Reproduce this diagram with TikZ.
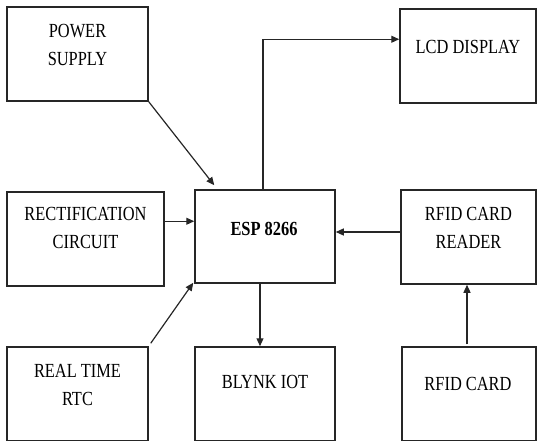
\documentclass[tikz,border=0pt]{standalone}
\usepackage{fontspec}
\usepackage{graphicx}
\setmainfont{Liberation Serif}
\usetikzlibrary{arrows.meta,calc}
\newcommand\sqz[1]{\scalebox{0.82}[1]{\begin{tabular}{@{}c@{}}#1\end{tabular}}}
\tikzset{
  box/.style={draw=black!85, line width=1.5pt, rectangle, inner sep=0pt},
  txt/.style={font=\fontsize{20}{28}\selectfont, align=center, inner sep=0pt},
  arr/.style={draw=black!85, line width=1.2pt, -{Triangle[length=8pt,width=7pt]}}
}
\begin{document}
\begin{tikzpicture}[x=1pt,y=-1pt]
\useasboundingbox (0,0) rectangle (538,441);
% boxes
\node[box, minimum width=141pt, minimum height=94pt] (ps) at (77.5,54) {};
\node[txt] (pst) at (77.5,46) {\sqz{POWER\\SUPPLY}};
\node[box, minimum width=157pt, minimum height=94pt] (rect) at (85.5,239) {};
\node[txt] (rectt) at (85.5,229) {\sqz{RECTIFICATION\\CIRCUIT}};
\node[box, minimum width=140pt, minimum height=93pt] (esp) at (265,236.5) {};
\node[txt, font=\bfseries\fontsize{20}{28}\selectfont] (espt) at (264,230) {\sqz{ESP 8266}};
\node[box, minimum width=136pt, minimum height=94pt] (lcd) at (468,56) {};
\node[txt] (lcdt) at (468,48) {\sqz{LCD DISPLAY}};
\node[box, minimum width=135pt, minimum height=94pt] (reader) at (468.5,237) {};
\node[txt] (readert) at (468.5,229) {\sqz{RFID CARD\\READER}};
\node[box, minimum width=141pt, minimum height=94pt] (rtc) at (77.5,394) {};
\node[txt] (rtct) at (77.5,386) {\sqz{REAL TIME\\RTC}};
\node[box, minimum width=140pt, minimum height=94pt] (blynk) at (265,394) {};
\node[txt] (blynkt) at (265,383) {\sqz{BLYNK IOT}};
\node[box, minimum width=134pt, minimum height=94pt] (card) at (469,394) {};
\node[txt] (cardt) at (468,385) {\sqz{RFID CARD}};
% connectors
\draw[arr] (ps.south east) -- ($(esp.north west)+(20,-4)$);
\draw[arr] ($(esp.north)+(-2,0)$) |- ($(lcd.north west)+(0,31)$);
\draw[arr] ($(rect.north east)+(0,30)$) -- ($(esp.north west)+(0,32)$);
\draw[arr] ($(rtc.north east)+(2,-3)$) -- ($(esp.south west)+(-1,-1)$);
\draw[arr] ($(esp.south)+(-5,0)$) -- ($(blynk.north)+(-5,0)$);
\draw[arr] ($(reader.west)+(0,-5)$) -- ($(esp.east)+(0,-4.5)$);
\draw[arr] ($(card.north)+(-2,-2)$) -- ($(reader.south)+(-1.5,0)$);
\end{tikzpicture}
\end{document}
